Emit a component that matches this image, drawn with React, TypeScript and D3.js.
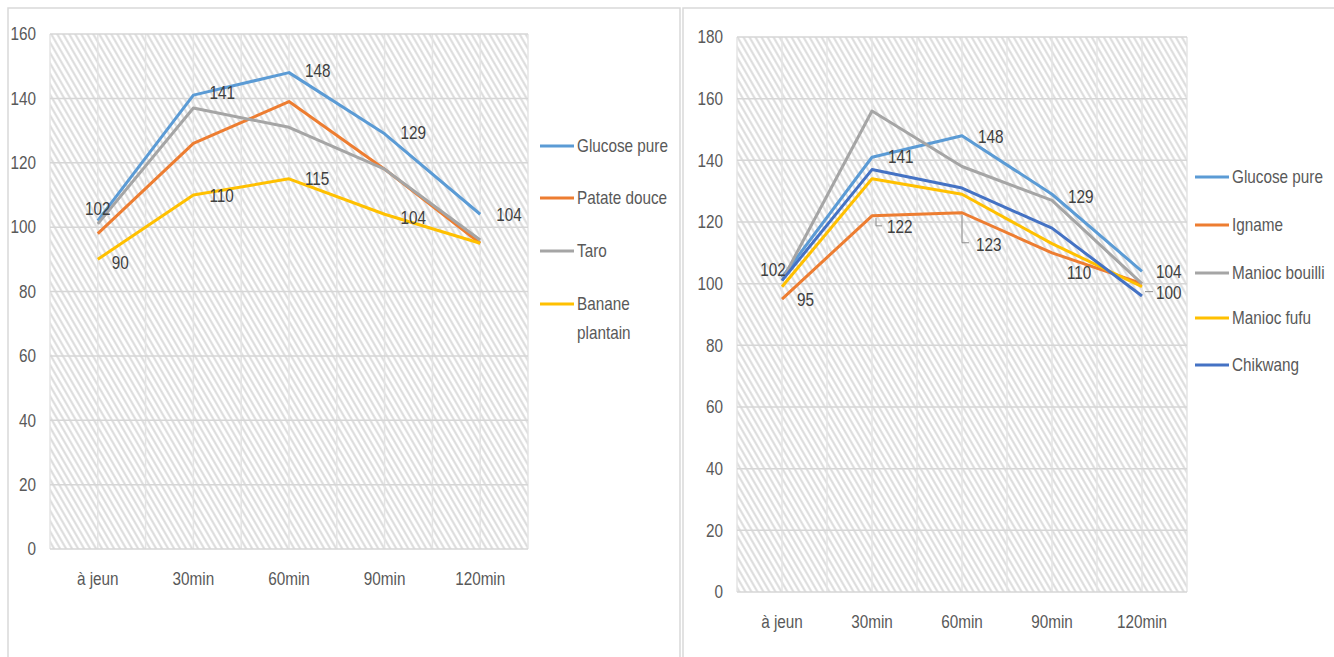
import React, { useEffect, useRef } from 'react'
import * as d3 from 'd3'

// time points on the x axis
const timePoints = ['à jeun', '30min', '60min', '90min', '120min']
const leftTicks = [0, 20, 40, 60, 80, 100, 120, 140, 160]
const rightTicks = [0, 20, 40, 60, 80, 100, 120, 140, 160, 180]

// left chart
const leftNames = ['Glucose pure', 'Patate douce', 'Taro', 'Banane plantain']
const glucoseLeft = [102, 141, 148, 129, 104]
const patateDouce = [98, 126, 139, 118, 95]
const taro = [101, 137, 131, 118, 96]
const bananePlantain = [90, 110, 115, 104, 95]

// right chart
const rightNames = ['Glucose pure', 'Igname', 'Manioc bouilli', 'Manioc fufu', 'Chikwang']
const glucoseRight = [102, 141, 148, 129, 104]
const igname = [95, 122, 123, 110, 100]
const maniocBouilli = [101, 156, 138, 127, 100]
const maniocFufu = [99, 134, 129, 113, 99]
const chikwang = [101, 137, 131, 118, 96]

const FONT = '"Liberation Sans", Arial, sans-serif'
const TEXT = '#595959'
const SQUEEZE = 0.85 // the source font is a narrow one

interface LabelSpec {
  s: number
  i: number
  dx: number
  dy: number
  anchor?: string
  leader?: number[][]
}

interface ChartProps {
  x0: number
  x1: number
  yTop: number
  yBottom: number
  maxY: number
  ticks: number[]
  names: string[]
  series: number[][]
  colors: string[]
  labels: LabelSpec[]
  legendX: number
  legendY: number[]
  legendLines?: string[][]
}

type G = d3.Selection<SVGGElement, unknown, null, undefined>

function addText(g: G, x: number, y: number, str: string | number, fill: string, anchor = 'start') {
  g.append('text')
    .attr('transform', `translate(${x},${y}) scale(${SQUEEZE},1)`)
    .attr('dy', '0.35em')
    .attr('text-anchor', anchor)
    .attr('font-family', FONT).attr('font-size', 18).attr('fill', fill)
    .text(str)
}

function drawChart(svg: d3.Selection<SVGSVGElement, unknown, null, undefined>, p: ChartProps) {
  const x = d3.scaleBand().domain(timePoints).range([p.x0, p.x1]).padding(0)
  const y = d3.scaleLinear().domain([0, p.maxY]).range([p.yBottom, p.yTop])
  const cx = (d: string) => (x(d) as number) + x.bandwidth() / 2

  const g = svg.append('g')

  // hatched plot background
  g.append('rect')
    .attr('x', p.x0).attr('y', p.yTop)
    .attr('width', p.x1 - p.x0).attr('height', p.yBottom - p.yTop)
    .attr('fill', 'url(#hatch)')

  // grid
  const vx: number[] = []
  timePoints.forEach(t => { vx.push(x(t) as number); vx.push(cx(t)) })
  vx.push(p.x1)
  g.append('g').selectAll('line').data(vx).join('line')
    .attr('x1', d => d).attr('x2', d => d)
    .attr('y1', p.yTop).attr('y2', p.yBottom)
    .attr('stroke', '#e4e4e4').attr('stroke-width', 1.5)
  g.append('g').selectAll('line').data(p.ticks).join('line')
    .attr('x1', p.x0).attr('x2', p.x1)
    .attr('y1', d => y(d)).attr('y2', d => y(d))
    .attr('stroke', '#d6d6d6').attr('stroke-width', 1.5)

  // axes
  g.append('g')
    .attr('transform', `translate(${p.x0 - 14},0)`)
    .call(d3.axisLeft(y).tickValues(p.ticks).tickSize(0).tickPadding(0))
    .call(a => a.select('.domain').remove())
    .selectAll('text')
    .attr('transform', `scale(${SQUEEZE},1)`)
    .attr('font-family', FONT).attr('font-size', 18).attr('fill', TEXT)

  g.append('g')
    .attr('transform', `translate(0,${p.yBottom})`)
    .call(d3.axisBottom(x).tickSize(0).tickPadding(23))
    .call(a => a.select('.domain').remove())
    .selectAll('text')
    .attr('transform', `scale(${SQUEEZE},1)`)
    .attr('font-family', FONT).attr('font-size', 18).attr('fill', TEXT)

  // lines
  const line = d3.line<number>()
    .x((_, i) => cx(timePoints[i]))
    .y(d => y(d))
  g.append('g').selectAll('path').data(p.series).join('path')
    .attr('d', d => line(d))
    .attr('fill', 'none')
    .attr('stroke', (_, i) => p.colors[i])
    .attr('stroke-width', 3)
    .attr('stroke-linejoin', 'round')

  // data labels
  p.labels.forEach(l => {
    const px = cx(timePoints[l.i])
    const py = y(p.series[l.s][l.i])
    if (l.leader) {
      g.append('path')
        .attr('d', d3.line()(l.leader.map(([a, b]) => [px + a, py + b]) as [number, number][]))
        .attr('fill', 'none').attr('stroke', '#8c8c8c').attr('stroke-width', 1)
    }
    addText(g, px + l.dx, py + l.dy, p.series[l.s][l.i], '#404040', l.anchor || 'start')
  })

  // legend
  p.names.forEach((n, i) => {
    const ly = p.legendY[i]
    g.append('line')
      .attr('x1', p.legendX).attr('x2', p.legendX + 34)
      .attr('y1', ly).attr('y2', ly)
      .attr('stroke', p.colors[i]).attr('stroke-width', 3)
    const parts = p.legendLines && p.legendLines[i] ? p.legendLines[i] : [n]
    parts.forEach((t, k) => addText(g, p.legendX + 37, ly + k * 29, t, TEXT))
  })
}

export default function App() {
  const svgRef = useRef<SVGSVGElement | null>(null)

  useEffect(() => {
    const svg = d3.select(svgRef.current as SVGSVGElement)
    svg.selectAll('*').remove()

    const defs = svg.append('defs')
    const pat = defs.append('pattern')
      .attr('id', 'hatch')
      .attr('patternUnits', 'userSpaceOnUse')
      .attr('width', 5.2).attr('height', 10)
      .attr('patternTransform', 'rotate(-30)')
    pat.append('rect').attr('width', 5.2).attr('height', 10).attr('fill', '#ffffff')
    pat.append('line')
      .attr('x1', 1.3).attr('x2', 1.3).attr('y1', 0).attr('y2', 10)
      .attr('stroke', '#dadada').attr('stroke-width', 2)

    svg.append('rect').attr('width', 1334).attr('height', 657).attr('fill', '#ffffff')

    // panel borders
    svg.append('rect').attr('x', 8).attr('y', 8).attr('width', 672).attr('height', 700)
      .attr('fill', 'none').attr('stroke', '#d9d9d9').attr('stroke-width', 1.5)
    svg.append('rect').attr('x', 683).attr('y', 8).attr('width', 700).attr('height', 700)
      .attr('fill', 'none').attr('stroke', '#d9d9d9').attr('stroke-width', 1.5)

    drawChart(svg, {
      x0: 50, x1: 528, yTop: 34, yBottom: 549, maxY: 160,
      ticks: leftTicks,
      names: leftNames,
      series: [glucoseLeft, patateDouce, taro, bananePlantain],
      colors: ['#5b9bd5', '#ed7d31', '#a5a5a5', '#ffc000'],
      labels: [
        { s: 0, i: 0, dx: 0, dy: -12, anchor: 'middle' },
        { s: 0, i: 1, dx: 16, dy: -2 },
        { s: 0, i: 2, dx: 16, dy: -2 },
        { s: 0, i: 3, dx: 16, dy: -1 },
        { s: 0, i: 4, dx: 16, dy: 0 },
        { s: 3, i: 0, dx: 14, dy: 3 },
        { s: 3, i: 1, dx: 16, dy: 1 },
        { s: 3, i: 2, dx: 16, dy: 0 },
        { s: 3, i: 3, dx: 16, dy: 3 },
      ],
      legendX: 540,
      legendY: [146, 198, 251, 304],
      legendLines: [['Glucose pure'], ['Patate douce'], ['Taro'], ['Banane', 'plantain']],
    })

    drawChart(svg, {
      x0: 737, x1: 1187, yTop: 37, yBottom: 592, maxY: 180,
      ticks: rightTicks,
      names: rightNames,
      series: [glucoseRight, igname, maniocBouilli, maniocFufu, chikwang],
      colors: ['#5b9bd5', '#ed7d31', '#a5a5a5', '#ffc000', '#4472c4'],
      labels: [
        { s: 0, i: 0, dx: -9, dy: -8, anchor: 'middle' },
        { s: 0, i: 1, dx: 16, dy: -1 },
        { s: 0, i: 2, dx: 16, dy: 1 },
        { s: 0, i: 3, dx: 16, dy: 2 },
        { s: 0, i: 4, dx: 14, dy: 0 },
        { s: 1, i: 0, dx: 15, dy: 1 },
        { s: 1, i: 1, dx: 15, dy: 11, leader: [[4, 2], [4, 10], [10, 10]] },
        { s: 1, i: 2, dx: 14, dy: 32, leader: [[0, 2], [0, 30], [7, 30]] },
        { s: 1, i: 3, dx: 15, dy: 20 },
        { s: 2, i: 4, dx: 14, dy: 9, leader: [[3, 8], [11, 8]] },
      ],
      legendX: 1195,
      legendY: [177, 225, 273, 318, 365],
    })
  }, [])

  return (
    <svg ref={svgRef} width={1334} height={657} style={{ position: 'absolute', left: 0, top: 0 }}></svg>
  )
}
